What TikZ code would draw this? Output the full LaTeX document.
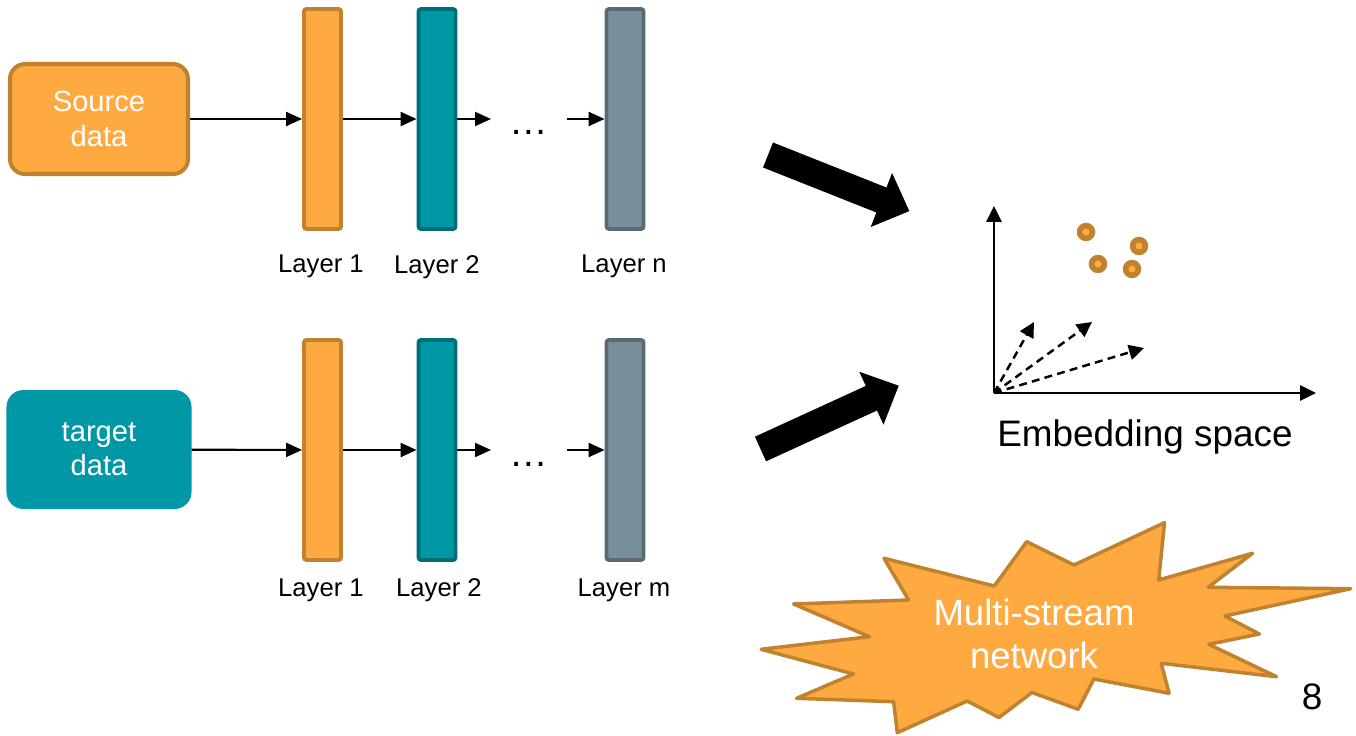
\documentclass[tikz,border=0pt]{standalone}
\usepackage{fontspec}
\setmainfont{Liberation Sans}
\usetikzlibrary{arrows.meta}
\definecolor{orf}{HTML}{FFAA40}
\definecolor{orb}{HTML}{C0822F}
\definecolor{tlf}{HTML}{0097A7}
\definecolor{tlb}{HTML}{006E78}
\definecolor{grf}{HTML}{78909C}
\definecolor{grb}{HTML}{5A6A74}
\tikzset{
  inbox/.style={rounded corners=0.3cm, minimum width=3.56cm, minimum height=2.2cm, inner sep=0pt, text=white, font=\fontsize{16.6}{19.5}\selectfont, align=center, line width=2.3pt},
  layer/.style={rounded corners=0.05cm, minimum width=0.74cm, minimum height=4.4cm, inner sep=0pt, line width=2.2pt},
  lab/.style={font=\fontsize{14.6}{16}\selectfont, inner sep=0pt},
  ell/.style={font=\fontsize{22}{24}\selectfont, inner sep=0pt, anchor=base},
  flow/.style={line width=1.2pt, -{Triangle[length=0.32cm,width=0.28cm]}},
  axis/.style={line width=1.6pt, -{Triangle[length=0.32cm,width=0.3cm]}},
  dvec/.style={line width=1.4pt, dash pattern=on 4.5pt off 3pt, -{Triangle[length=0.3cm,width=0.3cm]}},
  bigarrow/.style={fill=black},
  dot/.style={circle, fill=orb, minimum size=0.37cm, inner sep=0pt},
  dotin/.style={circle, fill=orf, minimum size=0.14cm, inner sep=0pt},
}
\begin{document}
\begin{tikzpicture}[x=0.02cm, y=-0.02cm]
\useasboundingbox (0,0) rectangle (1356,736);
% input boxes
\node[inbox, fill=orf, draw=orb] (src) at (99,119) {Source\\data};
\node[inbox, fill=tlf, draw=tlf, minimum width=3.62cm, minimum height=2.3cm] (tgt) at (99,449.5) {target\\data};
% top stream
\node[layer, fill=orf, draw=orb] (a1) at (322.5,119) {};
\node[layer, fill=tlf, draw=tlb] (a2) at (437,119) {};
\node[layer, fill=grf, draw=grb] (an) at (625,119) {};
\coordinate (a2e) at (491,119);
\coordinate (ans) at (567,119);
\node[ell] (dots1) at (529,135) {…};
\draw[flow] (src) -- (a1);
\draw[flow] (a1) -- (a2);
\draw[flow] (a2) -- (a2e);
\draw[flow] (ans) -- (an);
\node[lab] (la1) at (321,266) {Layer 1};
\node[lab] (la2) at (437,267) {Layer 2};
\node[lab] (lan) at (624,266) {Layer n};
% bottom stream
\node[layer, fill=orf, draw=orb] (b1) at (322.5,450) {};
\node[layer, fill=tlf, draw=tlb] (b2) at (437,450) {};
\node[layer, fill=grf, draw=grb] (bn) at (625,450) {};
\coordinate (b2e) at (491,450);
\coordinate (bns) at (567,450);
\node[ell] (dots2) at (529,466) {…};
\draw[flow] (tgt) -- (b1);
\draw[flow] (b1) -- (b2);
\draw[flow] (b2) -- (b2e);
\draw[flow] (bns) -- (bn);
\node[lab] (lb1) at (321,590) {Layer 1};
\node[lab] (lb2) at (439,590) {Layer 2};
\node[lab] (lbm) at (624,590) {Layer m};
% big arrows
\fill[bigarrow] (763.0,167.5) -- (773.0,142.5) -- (886.4,187.5) -- (892.1,173.0) -- (909.3,211.1) -- (870.7,227.0) -- (876.4,212.5) -- cycle;
\fill[bigarrow] (766.1,461.3) -- (754.9,436.7) -- (865.8,385.9) -- (859.3,371.8) -- (898.7,385.7) -- (883.5,424.6) -- (877.0,410.5) -- cycle;
% embedding space
\coordinate (O) at (994,393);
\coordinate (Yt) at (994,206);
\coordinate (Xt) at (1316,393);
\coordinate (v1) at (1034,322);
\coordinate (v2) at (1092,322);
\coordinate (v3) at (1144,348);
\draw[dvec] (O) -- (v1);
\draw[dvec] (O) -- (v2);
\draw[dvec] (O) -- (v3);
\draw[axis] (O) -- (Yt);
\draw[axis] (O) -- (Xt);
\foreach \n/\p in {p1/{(1086,232)}, p2/{(1139,246)}, p3/{(1098,264)}, p4/{(1132,269)}} {
  \node[dot] (\n) at \p {};
  \node[dotin] at \p {};
}
\node[font=\fontsize{21}{24}\selectfont, inner sep=0pt] (emb) at (1145,437) {Embedding space};
% starburst
\draw[fill=orf, draw=orb, line width=2pt, line join=round]
 (884,558.3) -- (994.3,586) -- (1026.7,541.7) -- (1074,565) -- (1164.5,522.7) -- (1158.7,580)
 -- (1252.5,553.3) -- (1208.2,587.3) -- (1350.7,588.7) -- (1224.8,616) -- (1259.4,634) -- (1208.8,644.3)
 -- (1276.5,676.7) -- (1161.2,663.3) -- (1169.1,693.3) -- (1093.9,679) -- (1078.2,709.3) -- (1032,692.5)
 -- (999,717.5) -- (967.2,701) -- (897.3,732.7) -- (893.6,701.7) -- (796.6,698.3) -- (853.5,674)
 -- (761.2,649.3) -- (869.4,636.7) -- (793.6,604) -- (908.6,600) -- cycle;
\node[font=\fontsize{20.8}{24.5}\selectfont, text=white, align=center, inner sep=0pt] (burst) at (1034,634) {Multi-stream\\network};
\node[font=\fontsize{21}{24}\selectfont, inner sep=0pt] (pg) at (1312,697) {8};
\end{tikzpicture}
\end{document}
